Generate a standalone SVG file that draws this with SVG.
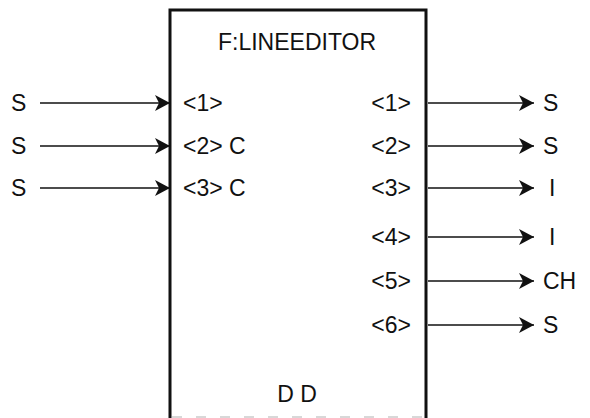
<svg xmlns="http://www.w3.org/2000/svg" width="590" height="418" viewBox="0 0 590 418">
<style>
text{font-family:"Liberation Sans",Arial,sans-serif;font-size:23px;fill:#111}
.c{stroke:#111;stroke-width:1.7;fill:none}
.box{stroke:#111;stroke-width:3;fill:#fff}
.r{text-anchor:end}
.m{text-anchor:middle}
</style>
<defs>
<marker id="ah" viewBox="0 0 15 16" refX="15" refY="8" markerWidth="15" markerHeight="16" markerUnits="userSpaceOnUse" orient="auto">
<path d="M0,0 L15,8 L0,16 L4,8 Z" fill="#111"/>
</marker>
</defs>
<g id="lineeditor">
<path class="box" d="M170,420 L170,10 L426,10 L426,420"/>
<line x1="172" y1="417" x2="424" y2="417" stroke="#ccc" stroke-width="1.5" stroke-dasharray="10,14"/>
<text class="m" x="297" y="50">F:LINEEDITOR</text>
<text x="183" y="111">&lt;1&gt;</text>
<text x="183" y="154">&lt;2&gt; C</text>
<text x="183" y="196">&lt;3&gt; C</text>
<text class="r" x="411" y="111">&lt;1&gt;</text>
<text class="r" x="411" y="154">&lt;2&gt;</text>
<text class="r" x="411" y="196">&lt;3&gt;</text>
<text class="r" x="411" y="245">&lt;4&gt;</text>
<text class="r" x="411" y="289">&lt;5&gt;</text>
<text class="r" x="411" y="333">&lt;6&gt;</text>
<text class="m" x="297" y="402">D D</text>
</g>
<g id="inputs">
<text x="11" y="111">S</text>
<text x="11" y="154">S</text>
<text x="11" y="196">S</text>
</g>
<g id="outputs">
<text x="543" y="111">S</text>
<text x="543" y="154">S</text>
<text x="549" y="196">I</text>
<text x="549" y="245">I</text>
<text x="543" y="289">CH</text>
<text x="543" y="333">S</text>
</g>
<g id="connectors">
<line class="c" x1="40" y1="103" x2="170" y2="103" marker-end="url(#ah)"/>
<line class="c" x1="40" y1="146" x2="170" y2="146" marker-end="url(#ah)"/>
<line class="c" x1="40" y1="188" x2="170" y2="188" marker-end="url(#ah)"/>
<line class="c" x1="428" y1="103" x2="534" y2="103" marker-end="url(#ah)"/>
<line class="c" x1="428" y1="146" x2="534" y2="146" marker-end="url(#ah)"/>
<line class="c" x1="428" y1="188" x2="534" y2="188" marker-end="url(#ah)"/>
<line class="c" x1="428" y1="237" x2="534" y2="237" marker-end="url(#ah)"/>
<line class="c" x1="428" y1="281" x2="534" y2="281" marker-end="url(#ah)"/>
<line class="c" x1="428" y1="325" x2="534" y2="325" marker-end="url(#ah)"/>
</g>
</svg>
